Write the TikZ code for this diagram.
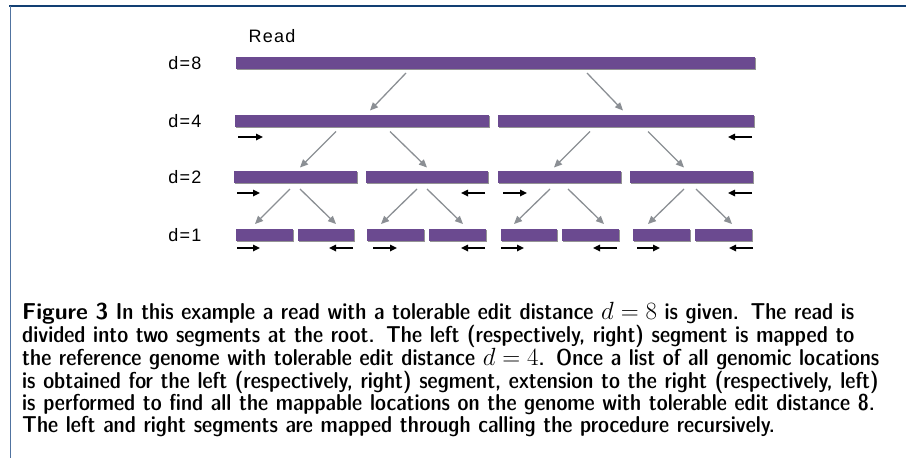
\documentclass[tikz,border=0pt]{standalone}
\usepackage{fontspec}
\newfontfamily\labelfont[LetterSpace=7]{Liberation Sans}
\usetikzlibrary{arrows.meta,shadows}
\definecolor{segpurple}{HTML}{6B4A90}
\definecolor{linkgray}{HTML}{8B8F94}
\definecolor{framenavy}{HTML}{123F73}
\definecolor{frameside}{HTML}{5073A0}
\tikzset{
  seg/.style={rectangle, fill=segpurple, inner sep=0pt, outer sep=0pt, minimum height=12pt,
    drop shadow={shadow xshift=1.2pt, shadow yshift=-1.2pt, fill=black!60, opacity=0.7}},
  link/.style={draw=linkgray, line width=1.3pt, -{Triangle[length=8pt,width=7pt]}},
  dirarrow/.style={draw=black, line width=1.6pt, -{Triangle[length=7pt,width=6.5pt]}},
  lvl/.style={font=\labelfont\fontsize{18}{20}\selectfont, inner sep=0pt},
  captext/.style={anchor=north west, inner sep=0pt, align=left, text width=880pt,
    font=\fontsize{23}{21.2}\sffamily\fontseries{sbc}\selectfont},
}
\begin{document}
\begin{tikzpicture}[x=1pt,y=-1pt]
\useasboundingbox (0,0) rectangle (906,458);

% frame
\draw[framenavy, line width=1.5pt] (9,6) -- (906,6);
\draw[frameside, line width=1pt] (10,6) -- (10,458);

% level labels
\node[lvl] (rd) at (272,36.5) {Read};
\node[lvl] (l8) at (185,63) {d=8};
\node[lvl] (l4) at (185,121) {d=4};
\node[lvl] (l2) at (185,177) {d=2};
\node[lvl] (l1) at (185,235) {d=1};

% segments
\node[seg, minimum width=519pt] (r8) at (495.5,63) {};
\node[seg, minimum width=254pt] (r4a) at (362,121) {};
\node[seg, minimum width=256pt] (r4b) at (626,121) {};
\node[seg, minimum width=123pt] (r2a) at (295.5,177) {};
\node[seg, minimum width=122pt] (r2b) at (427,177) {};
\node[seg, minimum width=123pt] (r2c) at (559.5,177) {};
\node[seg, minimum width=123pt] (r2d) at (691.5,177) {};
\node[seg, minimum width=57pt] (r1a) at (264.5,235) {};
\node[seg, minimum width=56pt] (r1b) at (326,235) {};
\node[seg, minimum width=57pt] (r1c) at (395.5,235) {};
\node[seg, minimum width=57pt] (r1d) at (457.5,235) {};
\node[seg, minimum width=56pt] (r1e) at (529,235) {};
\node[seg, minimum width=57pt] (r1f) at (590.5,235) {};
\node[seg, minimum width=57pt] (r1g) at (661.5,235) {};
\node[seg, minimum width=57pt] (r1h) at (723.5,235) {};

% splitting links
\draw[link] ([xshift=-89.5pt,yshift=-4pt]r8.south) -- ([xshift=8pt,yshift=4.5pt]r4a.north);
\draw[link] ([xshift=91.5pt,yshift=-4pt]r8.south) -- ([xshift=-3pt,yshift=4.5pt]r4b.north);

\draw[link] ([xshift=-26pt,yshift=-4.5pt]r4a.south) -- ([xshift=4.5pt,yshift=3.5pt]r2a.north);
\draw[link] ([xshift=28pt,yshift=-4.5pt]r4a.south) -- ([xshift=0pt,yshift=3.5pt]r2b.north);
\draw[link] ([xshift=-36pt,yshift=-4.5pt]r4b.south) -- ([xshift=-5.5pt,yshift=3.5pt]r2c.north);
\draw[link] ([xshift=22pt,yshift=-4.5pt]r4b.south) -- ([xshift=-7.5pt,yshift=3.5pt]r2d.north);

\draw[link] ([xshift=-5.5pt,yshift=-6pt]r2a.south) -- ([xshift=-9.5pt,yshift=5pt]r1a.north);
\draw[link] ([xshift=4.5pt,yshift=-6pt]r2a.south) -- ([xshift=10pt,yshift=5pt]r1b.north);
\draw[link] ([xshift=-10pt,yshift=-6pt]r2b.south) -- ([xshift=-14.5pt,yshift=5pt]r1c.north);
\draw[link] ([xshift=0pt,yshift=-6pt]r2b.south) -- ([xshift=5.5pt,yshift=5pt]r1d.north);
\draw[link] ([xshift=-9.5pt,yshift=-6pt]r2c.south) -- ([xshift=-15pt,yshift=5pt]r1e.north);
\draw[link] ([xshift=8.5pt,yshift=-6pt]r2c.south) -- ([xshift=13.5pt,yshift=5pt]r1f.north);
\draw[link] ([xshift=-7.5pt,yshift=-6pt]r2d.south) -- ([xshift=-13.5pt,yshift=5pt]r1g.north);
\draw[link] ([xshift=4.5pt,yshift=-6pt]r2d.south) -- ([xshift=8.5pt,yshift=5pt]r1h.north);

% extension directions
\draw[dirarrow] ([xshift=3pt,yshift=-10pt]r4a.south west) -- ([xshift=28pt,yshift=-10pt]r4a.south west);
\draw[dirarrow] ([xshift=-2pt,yshift=-10pt]r4b.south east) -- ([xshift=-26pt,yshift=-10pt]r4b.south east);

\draw[dirarrow] ([xshift=3pt,yshift=-10pt]r2a.south west) -- ([xshift=26pt,yshift=-10pt]r2a.south west);
\draw[dirarrow] ([xshift=-3pt,yshift=-10pt]r2b.south east) -- ([xshift=-27pt,yshift=-10pt]r2b.south east);
\draw[dirarrow] ([xshift=5pt,yshift=-10pt]r2c.south west) -- ([xshift=29pt,yshift=-10pt]r2c.south west);
\draw[dirarrow] ([xshift=-1pt,yshift=-10pt]r2d.south east) -- ([xshift=-25pt,yshift=-10pt]r2d.south east);

\draw[dirarrow] ([xshift=1pt,yshift=-7pt]r1a.south west) -- ([xshift=24pt,yshift=-7pt]r1a.south west);
\draw[dirarrow] ([xshift=-1pt,yshift=-7pt]r1b.south east) -- ([xshift=-25pt,yshift=-7pt]r1b.south east);
\draw[dirarrow] ([xshift=6pt,yshift=-7pt]r1c.south west) -- ([xshift=30pt,yshift=-7pt]r1c.south west);
\draw[dirarrow] ([xshift=-1pt,yshift=-7pt]r1d.south east) -- ([xshift=-25pt,yshift=-7pt]r1d.south east);
\draw[dirarrow] ([xshift=0pt,yshift=-7pt]r1e.south west) -- ([xshift=23pt,yshift=-7pt]r1e.south west);
\draw[dirarrow] ([xshift=-2pt,yshift=-7pt]r1f.south east) -- ([xshift=-26pt,yshift=-7pt]r1f.south east);
\draw[dirarrow] ([xshift=4pt,yshift=-7pt]r1g.south west) -- ([xshift=27pt,yshift=-7pt]r1g.south west);
\draw[dirarrow] ([xshift=1pt,yshift=-7pt]r1h.south east) -- ([xshift=-23pt,yshift=-7pt]r1h.south east);

% caption
\node[captext] (cap) at (22,302) {\textbf{Figure 3} In this example a read with a tolerable edit distance $d=8$ is given. The read is\\
divided into two segments at the root. The left (respectively, right) segment is mapped to\\
the reference genome with tolerable edit distance $d=4$. Once a list of all genomic locations\\
is obtained for the left (respectively, right) segment, extension to the right (respectively, left)\\
is performed to find all the mappable locations on the genome with tolerable edit distance 8.\\
The left and right segments are mapped through calling the procedure recursively.};
\end{tikzpicture}
\end{document}
